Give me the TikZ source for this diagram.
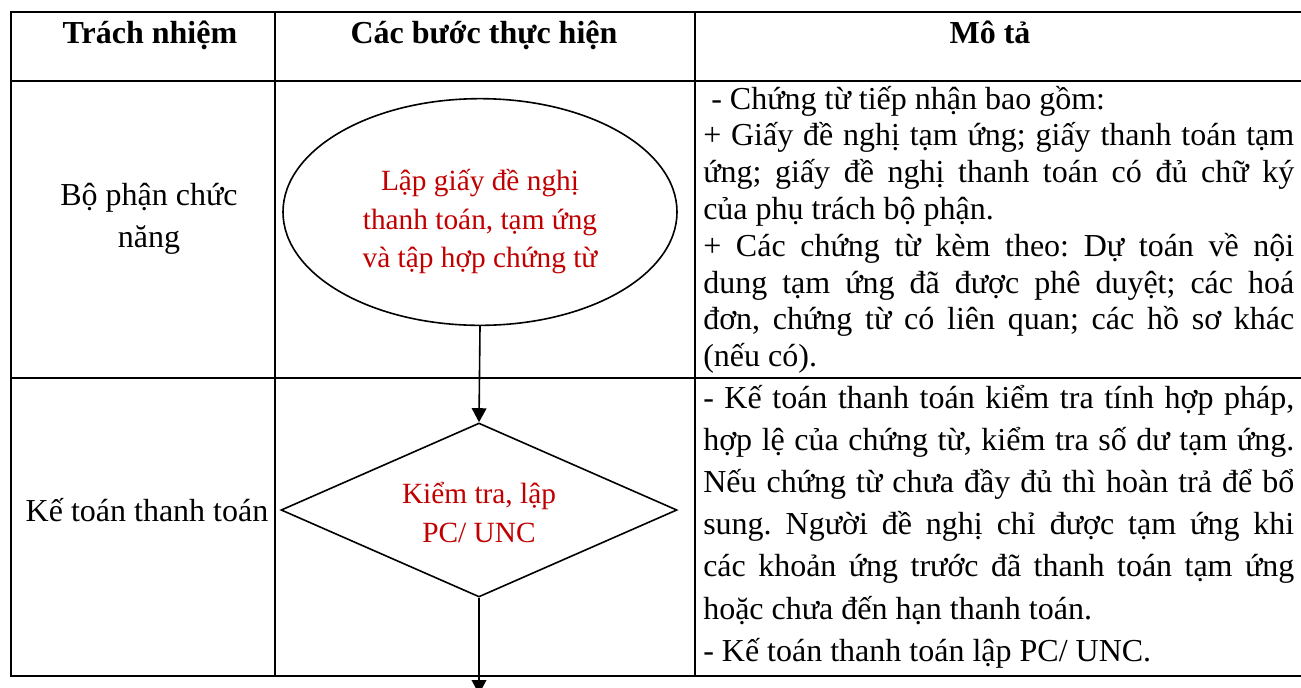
\documentclass[tikz,border=0pt]{standalone}
\usepackage{fontspec}
\setmainfont{Liberation Serif}
\usetikzlibrary{shapes.geometric,arrows.meta}
\definecolor{redtxt}{HTML}{C00000}
\frenchspacing
\newcommand{\jline}[1]{\makebox[443.25pt][s]{#1}}
\tikzset{
  grid/.style={line width=2pt, line cap=rect},
  conn/.style={line width=1.2pt, -{Triangle[length=10.5pt,width=11pt]}},
  body/.style={font=\fontsize{24pt}{28pt}\selectfont, inner sep=0pt},
  cbody/.style={body, anchor=base},
  jl/.style={body, anchor=base west},
  head/.style={font=\fontsize{24pt}{28pt}\selectfont\bfseries, inner sep=0pt, anchor=base},
  redt/.style={font=\fontsize{22pt}{26pt}\selectfont, text=redtxt, inner sep=0pt, anchor=base},
  shapeline/.style={draw, line width=1.2pt, inner sep=0pt}
}
\begin{document}
\begin{tikzpicture}[x=0.75pt,y=-0.75pt]
\useasboundingbox (0,0) rectangle (1301,687);
\clip (0,0) rectangle (1301,687);
% table grid
\draw[grid] (11,12) -- (1301,12);
\draw[grid] (11,81) -- (1301,81);
\draw[grid] (11,378) -- (1301,378);
\draw[grid] (11,676) -- (1301,676);
\draw[grid] (11,12) -- (11,676);
\draw[grid] (275,12) -- (275,676);
\draw[grid] (695,12) -- (695,676);
% headers
\node[head] (h1) at (150,43) {Trách nhiệm};
\node[head] (h2) at (484,43) {Các bước thực hiện};
\node[head] (h3) at (990,43) {Mô tả};
% responsibility column
\node[cbody] (c1a) at (149,205) {Bộ phận chức};
\node[cbody] (c1b) at (149,247) {năng};
\node[cbody] (c2) at (147,521) {Kế toán thanh toán};
% flow shapes
\node[shapeline, ellipse, minimum width=295.5pt, minimum height=170pt] (e1) at (480,212) {};
\node[redt] (r1) at (480,190) {Lập giấy đề nghị};
\node[redt] (r2) at (480,229) {thanh toán, tạm ứng};
\node[redt] (r3) at (480,267) {và tập hợp chứng từ};
\node[shapeline, diamond, aspect=2.276, minimum width=297pt, minimum height=130.5pt] (d1) at (479,510) {};
\node[redt] (r4) at (479,503) {Kiểm tra, lập};
\node[redt] (r5) at (479,542) {PC/ UNC};
\coordinate (out) at (479,694);
\draw[conn] (e1.south) -- (d1.north);
\draw[conn] (d1.south) -- (out);
% description row 1
\node[jl] (d1a) at (711,109) {- Chứng từ tiếp nhận bao gồm:};
\node[jl] (d1b) at (703,145.8) {\jline{+ Giấy đề nghị tạm ứng; giấy thanh toán tạm}};
\node[jl] (d1c) at (703,182.6) {\jline{ứng; giấy đề nghị thanh toán có đủ chữ ký}};
\node[jl] (d1d) at (703,219.4) {của phụ trách bộ phận.};
\node[jl] (d1e) at (703,256.2) {\jline{+ Các chứng từ kèm theo: Dự toán về nội}};
\node[jl] (d1f) at (703,293) {\jline{dung tạm ứng đã được phê duyệt; các hoá}};
\node[jl] (d1g) at (703,329.8) {\jline{đơn, chứng từ có liên quan; các hồ sơ khác}};
\node[jl] (d1h) at (703,366.6) {(nếu có).};
% description row 2
\node[jl] (d2a) at (703,408) {\jline{- Kế toán thanh toán kiểm tra tính hợp pháp,}};
\node[jl] (d2b) at (703,450.2) {\jline{hợp lệ của chứng từ, kiểm tra số dư tạm ứng.}};
\node[jl] (d2c) at (703,492.4) {\jline{Nếu chứng từ chưa đầy đủ thì hoàn trả để bổ}};
\node[jl] (d2d) at (703,534.6) {\jline{sung. Người đề nghị chỉ được tạm ứng khi}};
\node[jl] (d2e) at (703,576.8) {\jline{các khoản ứng trước đã thanh toán tạm ứng}};
\node[jl] (d2f) at (703,619) {hoặc chưa đến hạn thanh toán.};
\node[jl] (d2g) at (703,661.2) {- Kế toán thanh toán lập PC/ UNC.};
\end{tikzpicture}
\end{document}
